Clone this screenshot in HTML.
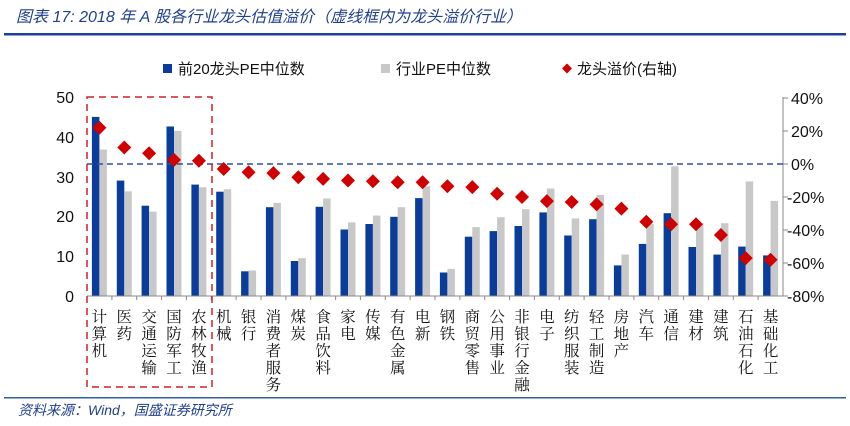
<!DOCTYPE html>
<html><head><meta charset="utf-8"><style>
html,body{margin:0;padding:0;background:#fff;width:850px;height:426px;overflow:hidden}
svg{display:block}
.t{font-family:"Liberation Sans","Noto Sans CJK SC",sans-serif}
.c{font-family:"Liberation Serif","Noto Serif CJK SC",serif;font-size:15.5px;fill:#111}
</style></head><body>
<svg width="850" height="426" viewBox="0 0 850 426" xmlns="http://www.w3.org/2000/svg">
<text x="16" y="22" class="t" font-size="16" font-style="italic" fill="#1f3f8f">图表 17:  2018 年 A 股各行业龙头估值溢价（虚线框内为龙头溢价行业）</text>
<rect x="4" y="33" width="842" height="2.5" fill="#1f3f9f"/>
<rect x="163" y="64" width="9" height="9" fill="#0a3d9b"/>
<text x="178" y="74" class="t" font-size="15" fill="#111">前20龙头PE中位数</text>
<rect x="381" y="64" width="9" height="9" fill="#c8c8c8"/>
<text x="396" y="74" class="t" font-size="15" fill="#111">行业PE中位数</text>
<polygon points="567,63.5 572,68.5 567,73.5 562,68.5" fill="#d00000"/>
<text x="577" y="74" class="t" font-size="15" fill="#111">龙头溢价(右轴)</text>
<g class="t" font-size="16" fill="#111" text-anchor="end">
<text x="74" y="103">50</text><text x="74" y="143">40</text><text x="74" y="183">30</text><text x="74" y="222">20</text><text x="74" y="262">10</text><text x="74" y="302">0</text>
</g>
<g class="t" font-size="16" fill="#111">
<text x="791" y="104">40%</text><text x="791" y="137">20%</text><text x="791" y="170">0%</text><text x="787" y="203">-20%</text><text x="787" y="236">-40%</text><text x="787" y="269">-60%</text><text x="787" y="302">-80%</text>
</g>
<g stroke="#888" stroke-width="1">
<line x1="783" y1="97" x2="783" y2="296"/>
<line x1="783" y1="98" x2="788" y2="98"/><line x1="783" y1="131" x2="788" y2="131"/><line x1="783" y1="164" x2="788" y2="164"/><line x1="783" y1="197" x2="788" y2="197"/><line x1="783" y1="230" x2="788" y2="230"/><line x1="783" y1="263" x2="788" y2="263"/><line x1="783" y1="296" x2="788" y2="296"/>
</g>
<g fill="#0a3d9b">
<rect x="91.9" y="116.9" width="7.5" height="179.1"/><rect x="116.8" y="180.6" width="7.5" height="115.4"/><rect x="141.6" y="205.7" width="7.5" height="90.3"/><rect x="166.5" y="126.5" width="7.5" height="169.5"/><rect x="191.4" y="184.6" width="7.5" height="111.4"/><rect x="216.2" y="191.7" width="7.5" height="104.3"/><rect x="241.1" y="271.3" width="7.5" height="24.7"/><rect x="265.9" y="207.2" width="7.5" height="88.8"/><rect x="290.8" y="261" width="7.5" height="35"/><rect x="315.6" y="206.8" width="7.5" height="89.2"/><rect x="340.5" y="229.5" width="7.5" height="66.5"/><rect x="365.4" y="224" width="7.5" height="72"/><rect x="390.2" y="216.8" width="7.5" height="79.2"/><rect x="415.1" y="198.1" width="7.5" height="97.9"/><rect x="439.9" y="272.5" width="7.5" height="23.5"/><rect x="464.8" y="236.7" width="7.5" height="59.3"/><rect x="489.6" y="231.1" width="7.5" height="64.9"/><rect x="514.5" y="226" width="7.5" height="70"/><rect x="539.4" y="212.4" width="7.5" height="83.6"/><rect x="564.2" y="235.5" width="7.5" height="60.5"/><rect x="589.1" y="219.2" width="7.5" height="76.8"/><rect x="613.9" y="265.4" width="7.5" height="30.6"/><rect x="638.8" y="243.9" width="7.5" height="52.1"/><rect x="663.6" y="213.2" width="7.5" height="82.8"/><rect x="688.5" y="247" width="7.5" height="49"/><rect x="713.4" y="254.6" width="7.5" height="41.4"/><rect x="738.2" y="246.6" width="7.5" height="49.4"/><rect x="763.1" y="255.4" width="7.5" height="40.6"/>
</g>
<g fill="#c8c8c8">
<rect x="99.4" y="149.5" width="7.5" height="146.5"/><rect x="124.3" y="191.3" width="7.5" height="104.7"/><rect x="149.1" y="211.6" width="7.5" height="84.4"/><rect x="174" y="130.8" width="7.5" height="165.2"/><rect x="198.9" y="187.3" width="7.5" height="108.7"/><rect x="223.7" y="189.3" width="7.5" height="106.7"/><rect x="248.6" y="270.5" width="7.5" height="25.5"/><rect x="273.4" y="202.9" width="7.5" height="93.1"/><rect x="298.3" y="258.2" width="7.5" height="37.8"/><rect x="323.1" y="198.5" width="7.5" height="97.5"/><rect x="348" y="222.4" width="7.5" height="73.6"/><rect x="372.9" y="215.6" width="7.5" height="80.4"/><rect x="397.7" y="207.2" width="7.5" height="88.8"/><rect x="422.6" y="186.2" width="7.5" height="109.8"/><rect x="447.4" y="268.9" width="7.5" height="27.1"/><rect x="472.3" y="227.1" width="7.5" height="68.9"/><rect x="497.1" y="217.2" width="7.5" height="78.8"/><rect x="522" y="209.2" width="7.5" height="86.8"/><rect x="546.9" y="188.5" width="7.5" height="107.5"/><rect x="571.7" y="218.4" width="7.5" height="77.6"/><rect x="596.6" y="194.9" width="7.5" height="101.1"/><rect x="621.4" y="254.6" width="7.5" height="41.4"/><rect x="646.3" y="223.6" width="7.5" height="72.4"/><rect x="671.1" y="166.3" width="7.5" height="129.7"/><rect x="696" y="223.2" width="7.5" height="72.8"/><rect x="720.9" y="223.2" width="7.5" height="72.8"/><rect x="745.7" y="181.4" width="7.5" height="114.6"/><rect x="770.6" y="200.9" width="7.5" height="95.1"/>
</g>
<line x1="87" y1="164" x2="783" y2="164" stroke="#2f4f9f" stroke-width="1.5" stroke-dasharray="6,4"/>
<g stroke="#888" stroke-width="1">
<line x1="87" y1="296" x2="783" y2="296"/>
<line x1="111.9" y1="296" x2="111.9" y2="300"/><line x1="136.7" y1="296" x2="136.7" y2="300"/><line x1="161.6" y1="296" x2="161.6" y2="300"/><line x1="186.4" y1="296" x2="186.4" y2="300"/><line x1="211.3" y1="296" x2="211.3" y2="300"/><line x1="236.1" y1="296" x2="236.1" y2="300"/><line x1="261" y1="296" x2="261" y2="300"/><line x1="285.9" y1="296" x2="285.9" y2="300"/><line x1="310.7" y1="296" x2="310.7" y2="300"/><line x1="335.6" y1="296" x2="335.6" y2="300"/><line x1="360.4" y1="296" x2="360.4" y2="300"/><line x1="385.3" y1="296" x2="385.3" y2="300"/><line x1="410.1" y1="296" x2="410.1" y2="300"/><line x1="435" y1="296" x2="435" y2="300"/><line x1="459.9" y1="296" x2="459.9" y2="300"/><line x1="484.7" y1="296" x2="484.7" y2="300"/><line x1="509.6" y1="296" x2="509.6" y2="300"/><line x1="534.4" y1="296" x2="534.4" y2="300"/><line x1="559.3" y1="296" x2="559.3" y2="300"/><line x1="584.1" y1="296" x2="584.1" y2="300"/><line x1="609" y1="296" x2="609" y2="300"/><line x1="633.9" y1="296" x2="633.9" y2="300"/><line x1="658.7" y1="296" x2="658.7" y2="300"/><line x1="683.6" y1="296" x2="683.6" y2="300"/><line x1="708.4" y1="296" x2="708.4" y2="300"/><line x1="733.3" y1="296" x2="733.3" y2="300"/><line x1="758.1" y1="296" x2="758.1" y2="300"/>
</g>
<g fill="#d00000">
<polygon points="99.4,120.7 106.4,127.7 99.4,134.7 92.4,127.7"/><polygon points="124.3,140.5 131.3,147.5 124.3,154.5 117.3,147.5"/><polygon points="149.1,146.3 156.1,153.3 149.1,160.3 142.1,153.3"/><polygon points="174,152.9 181,159.9 174,166.9 167,159.9"/><polygon points="198.9,153.7 205.9,160.7 198.9,167.7 191.9,160.7"/><polygon points="223.7,162 230.7,169 223.7,176 216.7,169"/><polygon points="248.6,165.3 255.6,172.3 248.6,179.3 241.6,172.3"/><polygon points="273.4,166.1 280.4,173.1 273.4,180.1 266.4,173.1"/><polygon points="298.3,170.2 305.3,177.2 298.3,184.2 291.3,177.2"/><polygon points="323.1,171.9 330.1,178.9 323.1,185.9 316.1,178.9"/><polygon points="348,173.5 355,180.5 348,187.5 341,180.5"/><polygon points="372.9,174.3 379.9,181.3 372.9,188.3 365.9,181.3"/><polygon points="397.7,175.2 404.7,182.2 397.7,189.2 390.7,182.2"/><polygon points="422.6,175.2 429.6,182.2 422.6,189.2 415.6,182.2"/><polygon points="447.4,179.3 454.4,186.3 447.4,193.3 440.4,186.3"/><polygon points="472.3,180.1 479.3,187.1 472.3,194.1 465.3,187.1"/><polygon points="497.1,186.7 504.1,193.7 497.1,200.7 490.1,193.7"/><polygon points="522,190 529,197 522,204 515,197"/><polygon points="546.9,194.1 553.9,201.1 546.9,208.1 539.9,201.1"/><polygon points="571.7,195 578.7,202 571.7,209 564.7,202"/><polygon points="596.6,197.4 603.6,204.4 596.6,211.4 589.6,204.4"/><polygon points="621.4,201.6 628.4,208.6 621.4,215.6 614.4,208.6"/><polygon points="646.3,214.8 653.3,221.8 646.3,228.8 639.3,221.8"/><polygon points="671.1,217.2 678.1,224.2 671.1,231.2 664.1,224.2"/><polygon points="696,217.2 703,224.2 696,231.2 689,224.2"/><polygon points="720.9,228 727.9,235 720.9,242 713.9,235"/><polygon points="745.7,251.1 752.7,258.1 745.7,265.1 738.7,258.1"/><polygon points="770.6,252.7 777.6,259.7 770.6,266.7 763.6,259.7"/>
</g>
<g class="c" text-anchor="middle">
<text x="99.4" y="322">计<tspan x="99.4" dy="17">算</tspan><tspan x="99.4" dy="17">机</tspan></text>
<text x="124.3" y="322">医<tspan x="124.3" dy="17">药</tspan></text>
<text x="149.1" y="322">交<tspan x="149.1" dy="17">通</tspan><tspan x="149.1" dy="17">运</tspan><tspan x="149.1" dy="17">输</tspan></text>
<text x="174" y="322">国<tspan x="174" dy="17">防</tspan><tspan x="174" dy="17">军</tspan><tspan x="174" dy="17">工</tspan></text>
<text x="198.9" y="322">农<tspan x="198.9" dy="17">林</tspan><tspan x="198.9" dy="17">牧</tspan><tspan x="198.9" dy="17">渔</tspan></text>
<text x="223.7" y="322">机<tspan x="223.7" dy="17">械</tspan></text>
<text x="248.6" y="322">银<tspan x="248.6" dy="17">行</tspan></text>
<text x="273.4" y="322">消<tspan x="273.4" dy="17">费</tspan><tspan x="273.4" dy="17">者</tspan><tspan x="273.4" dy="17">服</tspan><tspan x="273.4" dy="17">务</tspan></text>
<text x="298.3" y="322">煤<tspan x="298.3" dy="17">炭</tspan></text>
<text x="323.1" y="322">食<tspan x="323.1" dy="17">品</tspan><tspan x="323.1" dy="17">饮</tspan><tspan x="323.1" dy="17">料</tspan></text>
<text x="348" y="322">家<tspan x="348" dy="17">电</tspan></text>
<text x="372.9" y="322">传<tspan x="372.9" dy="17">媒</tspan></text>
<text x="397.7" y="322">有<tspan x="397.7" dy="17">色</tspan><tspan x="397.7" dy="17">金</tspan><tspan x="397.7" dy="17">属</tspan></text>
<text x="422.6" y="322">电<tspan x="422.6" dy="17">新</tspan></text>
<text x="447.4" y="322">钢<tspan x="447.4" dy="17">铁</tspan></text>
<text x="472.3" y="322">商<tspan x="472.3" dy="17">贸</tspan><tspan x="472.3" dy="17">零</tspan><tspan x="472.3" dy="17">售</tspan></text>
<text x="497.1" y="322">公<tspan x="497.1" dy="17">用</tspan><tspan x="497.1" dy="17">事</tspan><tspan x="497.1" dy="17">业</tspan></text>
<text x="522" y="322">非<tspan x="522" dy="17">银</tspan><tspan x="522" dy="17">行</tspan><tspan x="522" dy="17">金</tspan><tspan x="522" dy="17">融</tspan></text>
<text x="546.9" y="322">电<tspan x="546.9" dy="17">子</tspan></text>
<text x="571.7" y="322">纺<tspan x="571.7" dy="17">织</tspan><tspan x="571.7" dy="17">服</tspan><tspan x="571.7" dy="17">装</tspan></text>
<text x="596.6" y="322">轻<tspan x="596.6" dy="17">工</tspan><tspan x="596.6" dy="17">制</tspan><tspan x="596.6" dy="17">造</tspan></text>
<text x="621.4" y="322">房<tspan x="621.4" dy="17">地</tspan><tspan x="621.4" dy="17">产</tspan></text>
<text x="646.3" y="322">汽<tspan x="646.3" dy="17">车</tspan></text>
<text x="671.1" y="322">通<tspan x="671.1" dy="17">信</tspan></text>
<text x="696" y="322">建<tspan x="696" dy="17">材</tspan></text>
<text x="720.9" y="322">建<tspan x="720.9" dy="17">筑</tspan></text>
<text x="745.7" y="322">石<tspan x="745.7" dy="17">油</tspan><tspan x="745.7" dy="17">石</tspan><tspan x="745.7" dy="17">化</tspan></text>
<text x="770.6" y="322">基<tspan x="770.6" dy="17">础</tspan><tspan x="770.6" dy="17">化</tspan><tspan x="770.6" dy="17">工</tspan></text>
</g>
<rect x="87" y="97" width="125" height="290" fill="none" stroke="#d0202a" stroke-width="1.5" stroke-dasharray="7,5"/>
<rect x="4" y="397" width="842" height="1.5" fill="#2f5f9f"/>
<text x="18" y="415" class="t" font-size="14" font-style="italic" fill="#1f3f8f">资料来源：Wind，国盛证券研究所</text>
</svg>
</body></html>
